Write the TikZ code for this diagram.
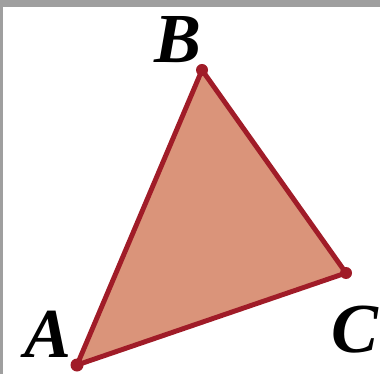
\documentclass[tikz,border=0pt]{standalone}
\usepackage{fontspec}
\setmainfont{Liberation Serif}
\usepackage{xcolor}
\usetikzlibrary{calc}
\definecolor{edgered}{RGB}{160,28,40}
\definecolor{facefill}{RGB}{218,148,122}

\begin{document}
\begin{tikzpicture}
\tikzset{vlabel/.style={font=\fontsize{40}{40}\selectfont\bfseries\itshape, text=black, inner sep=0pt, text depth=0pt}}
\useasboundingbox (0,0) rectangle (7.6,7.48);
\fill[gray!75] (0,7.34) rectangle (7.6,7.48);
\fill[gray!75] (0,0) rectangle (0.06,7.48);
\coordinate (A) at (1.54,0.18);
\coordinate (B) at (4.04,6.08);
\coordinate (C) at (6.92,2.02);
\filldraw[fill=facefill, draw=edgered, line width=2.8pt, line join=round] (A) -- (B) -- (C) -- cycle;
\fill[edgered] (A) circle (0.13);
\fill[edgered] (B) circle (0.12);
\fill[edgered] (C) circle (0.12);
\node[vlabel] (labA) at (0.96,0.8) {A};
\node[vlabel] (labB) at (3.56,6.7) {B};
\node[vlabel] (labC) at (7.1,0.9) {C};
\end{tikzpicture}
\end{document}
